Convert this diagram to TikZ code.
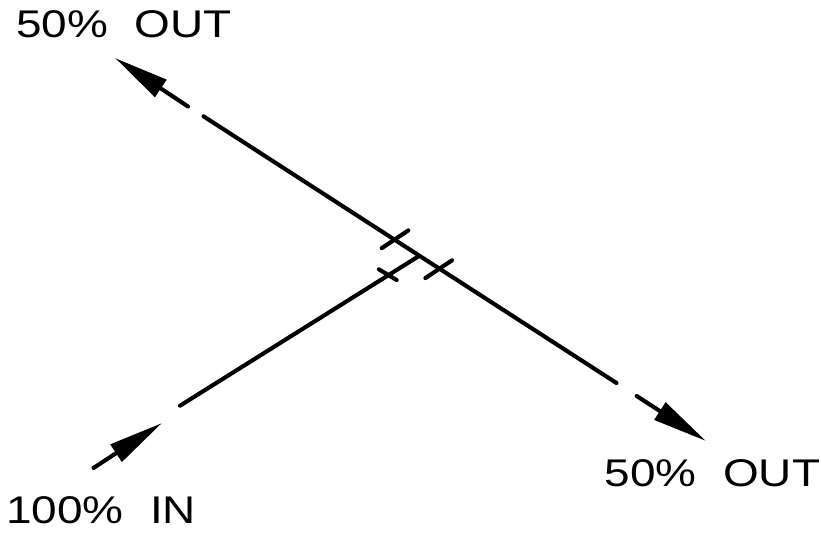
\documentclass[tikz,border=0pt]{standalone}
\usepackage{fontspec}
\usetikzlibrary{arrows.meta,calc}
\newfontfamily\lbl[FakeStretch=1.19]{Liberation Sans}
\tikzset{
  pipe/.style={line width=4.1pt, line cap=round},
  flow/.style={pipe, -{Triangle[length=55pt,width=20pt]}},
  tick/.style={pipe},
  lab/.style={inner sep=0pt, anchor=base west, font=\lbl\fontsize{38.6}{41}\selectfont}
}
\begin{document}
\begin{tikzpicture}[x=1pt,y=-1pt]
\useasboundingbox (0,0) rectangle (821,539);
% main line
\coordinate (A) at (115,58);
\coordinate (a1) at (188,106.5);
\coordinate (a2) at (203.5,116.3);
\coordinate (a3) at (616.5,383);
\coordinate (a4) at (636.7,396);
\coordinate (B) at (706,441);
% branch
\coordinate (T0) at (93.5,468);
\coordinate (Ct) at (162,423);
\coordinate (b1) at (180,405.7);
\coordinate (J) at (419,256);
% tick centres
\coordinate (m1) at (395,239.3);
\coordinate (m2) at (438.7,269.2);
\coordinate (m3) at (387.8,274.7);

\draw[flow] (a1) -- (A);
\draw[pipe] (a2) -- (a3);
\draw[flow] (a4) -- (B);
\draw[flow] (T0) -- (Ct);
\draw[pipe] (b1) -- (J);

\draw[tick] ($(m1)+(-13.3,8.9)$) -- ($(m1)+(13.3,-8.9)$);
\draw[tick] ($(m2)+(-13.3,8.9)$) -- ($(m2)+(13.3,-8.9)$);
\draw[tick] ($(m3)+(-8.9,-5.4)$) -- ($(m3)+(8.9,5.4)$);

\node[lab] (t1) at (15.9,37.3) {50\%\hspace{0.69em}OUT};
\node[lab] (t2) at (604.5,486.7) {50\%\hspace{0.69em}OUT};
\node[lab] (t3) at (5.8,523.3) {100\%\hspace{0.69em}IN};
\end{tikzpicture}
\end{document}
